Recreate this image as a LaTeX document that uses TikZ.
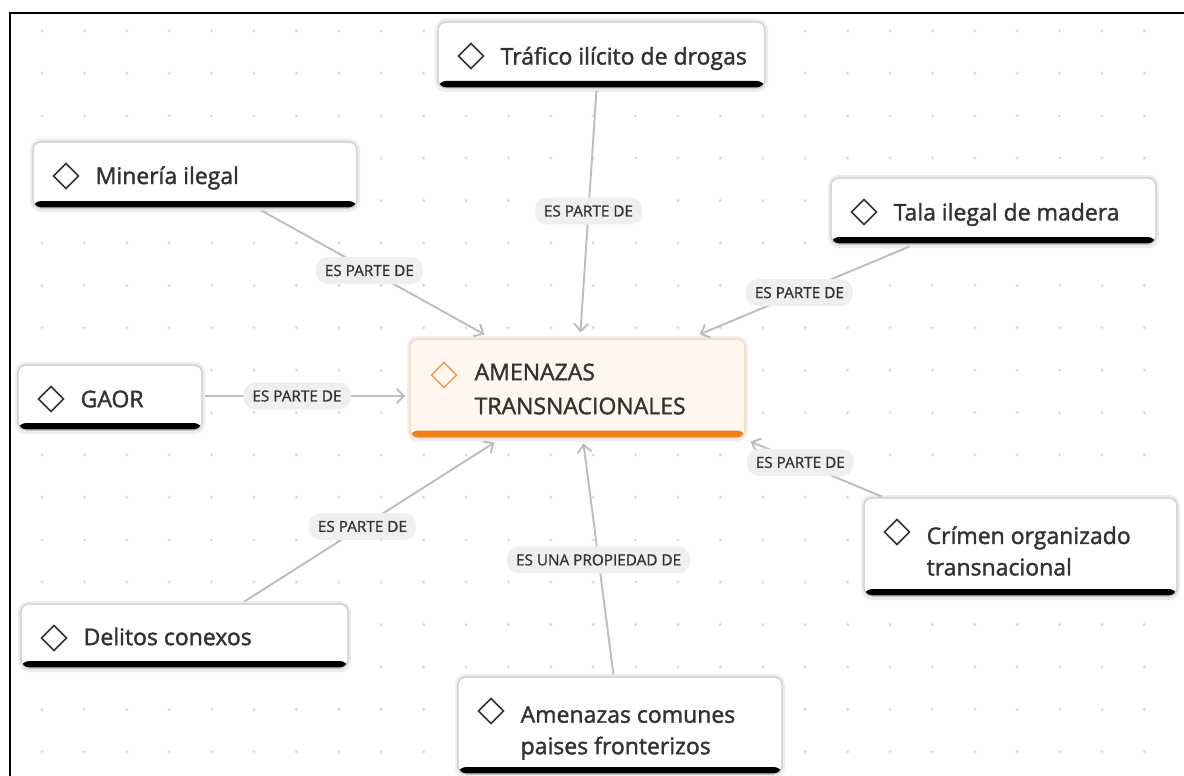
\documentclass[tikz,border=0pt]{standalone}
\usepackage{fontspec}
\setmainfont{Open Sans}[FakeBold=1.6]
\newfontfamily\pillfont{Open Sans}[FakeBold=1.0]
\usetikzlibrary{calc,arrows.meta}
\definecolor{txt}{HTML}{333333}
\definecolor{dotc}{HTML}{DADADA}
\definecolor{edgec}{HTML}{BDBDBD}
\definecolor{pillc}{HTML}{EFEFEF}
\definecolor{cardb}{HTML}{C9C9C9}
\definecolor{ctrfill}{HTML}{FFF6EE}
\definecolor{ctrb}{HTML}{F3D7B8}
\definecolor{ctrbar}{HTML}{EE7F1E}
\definecolor{ctrdia}{HTML}{E8A25C}
\tikzset{
  card/.style={draw=cardb, line width=1.1pt, fill=white, rounded corners=8pt, inner sep=0pt,
    path picture={
      \fill[black] ([yshift=-2pt]path picture bounding box.south west) rectangle ([yshift=7pt]path picture bounding box.south east);
      \draw[txt, line width=1.6pt, sharp corners, line join=miter] ([xshift=33pt,yshift=-34pt]path picture bounding box.north west)
        +(-12.5,0) -- +(0,-12.5) -- +(12.5,0) -- +(0,12.5) -- cycle;
    }},
  ctrcard/.style={draw=ctrb, line width=1.1pt, fill=ctrfill, rounded corners=8pt, inner sep=0pt,
    path picture={
      \fill[ctrbar] ([yshift=-2pt]path picture bounding box.south west) rectangle ([yshift=7.5pt]path picture bounding box.south east);
      \draw[ctrdia, line width=1.6pt, sharp corners, line join=miter] ([xshift=34pt,yshift=-36pt]path picture bounding box.north west)
        +(-12.5,0) -- +(0,-12.5) -- +(12.5,0) -- +(0,12.5) -- cycle;
    }},
  shadowc/.style={draw=black!7, line width=4pt, rounded corners=9pt},
  ctext/.style={anchor=west, inner sep=0pt, text=txt, align=left, font=\fontsize{23}{31.5}\selectfont},
  pill/.style={fill=pillc, rounded corners=12pt, inner xsep=9pt, inner ysep=0pt, minimum height=27pt, text=txt, font=\pillfont\fontsize{15.3}{17}\selectfont},
  edge/.style={draw=edgec, line width=1.9pt, -{Straight Barb[length=7.5pt,width=14pt]}},
}
\begin{document}
\begin{tikzpicture}[x=1pt,y=-1pt]
\useasboundingbox (0,0) rectangle (1184,776);
\fill[white] (0,0) rectangle (1184,776);
% dotted grid
\foreach \i in {0,...,26} {
  \foreach \j in {0,...,17} {
    \fill[dotc] (42+42.4*\i, 31+42.4*\j) circle (1.6);
  }
}
% frame
\draw[black, line width=2.6pt] (10,780) -- (10,13) -- (1190,13);

% shadows
\foreach \a/\b/\c/\d in {438/22/765/88, 33/142/357/208, 831/178/1156/244, 18/365/202/430, 21/604/348/668, 864/498/1177/596, 458/677/782/774}{
  \draw[shadowc] (\a-1,\b-1) rectangle (\c+1,\d+2);
}

% cards
\node[card, minimum width=327pt, minimum height=66pt] (traf) at (601.5,55) {};
\node[ctext] (traft) at ([xshift=63pt,yshift=-3.5pt]traf.west) {Tráfico ilícito de drogas};

\node[card, minimum width=324pt, minimum height=66pt] (mine) at (195,175) {};
\node[ctext] (minet) at ([xshift=63pt,yshift=-3pt]mine.west) {Minería ilegal};

\node[card, minimum width=325pt, minimum height=66pt] (tala) at (993.5,211) {};
\node[ctext] (talat) at ([xshift=63pt,yshift=-3.5pt]tala.west) {Tala ilegal de madera};

\node[card, minimum width=184pt, minimum height=65pt] (gaor) at (110,397.5) {};
\node[ctext] (gaort) at ([xshift=63pt,yshift=-1.5pt]gaor.west) {GAOR};

\node[card, minimum width=327pt, minimum height=64pt] (deli) at (184.5,636) {};
\node[ctext] (delit) at ([xshift=63pt,yshift=-0.5pt]deli.west) {Delitos conexos};

\node[card, minimum width=313pt, minimum height=98pt] (crim) at (1020.5,547) {};
\node[ctext] (crimt) at ([xshift=63pt,yshift=-4pt]crim.west) {Crímen organizado\\transnacional};

\node[card, minimum width=324pt, minimum height=97pt] (amen) at (620,725.5) {};
\node[ctext] (ament) at ([xshift=63pt,yshift=-7.5pt]amen.west) {Amenazas comunes\\paises fronterizos};

\draw[draw=black!6, line width=4pt, rounded corners=9pt] (409,338) rectangle (746,440);
\node[ctrcard, minimum width=335pt, minimum height=99pt] (ctr) at (577.5,388.5) {};
\node[ctext, font=\fontsize{23}{34}\selectfont] (ctrt) at ([xshift=65pt,yshift=-0.5pt]ctr.west) {AMENAZAS\\TRANSNACIONALES};

% connectors
\draw[edge] ($(mine.south west)+(229,2)$) -- node[pill,pos=.484] (l1) {ES PARTE DE} ($(ctr.north west)+(75,-4)$);
\draw[edge] ($(traf.south west)+(159,2)$) -- node[pill,pos=.498] (l2) {ES PARTE DE} ($(ctr.north west)+(171,-6)$);
\draw[edge] ($(tala.south west)+(79,2)$) -- node[pill,pos=.524] (l3) {ES PARTE DE} ($(ctr.north west)+(290,-4)$);
\draw[edge] ($(gaor.east)+(2,-1.5)$) -- node[pill,pos=.46] (l4) {ES PARTE DE} ($(ctr.west)+(-4,7.5)$);
\draw[edge] ($(deli.north west)+(224,-2)$) -- node[pill,pos=.472] (l5) {ES PARTE DE} ($(ctr.south west)+(85,4)$);
\draw[edge] ($(crim.north west)+(18,-1)$) -- node[pill,pos=.62] (l6) {ES PARTE DE} ($(ctr.south east)+(5,3)$);
\draw[edge] ($(amen.north west)+(156,-2)$) -- node[pill,pos=.496] (l7) {ES UNA PROPIEDAD DE} ($(ctr.south west)+(174,5)$);
\end{tikzpicture}
\end{document}
